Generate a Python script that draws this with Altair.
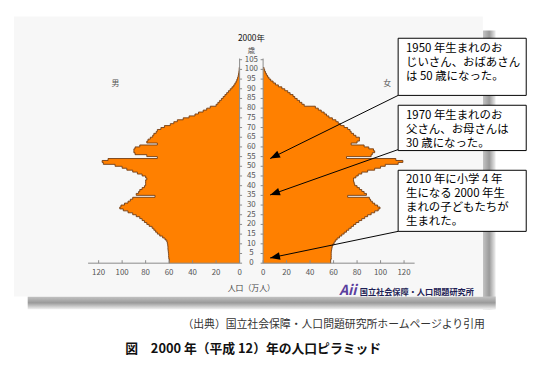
import math
import altair as alt
import pandas as pd

# ---------------- data (万人) ----------------
ages = list(range(0, 101))
male = [59.8, 59.8, 60.2, 60.4, 60.4, 60.6, 60.8, 61, 61, 61.2,
        61.5, 62, 63.5, 65.5, 68, 70, 71.5, 73, 74.5, 77,
        79, 81, 83, 85, 88, 91, 95, 99, 102, 101,
        98, 95, 93, 91, 72, 88, 86, 85, 83, 81,
        80, 80, 80, 79, 80, 83, 87, 91, 96, 100,
        106, 116, 117, 112, 70, 79, 89, 90, 90, 89,
        85, 70, 79, 78, 76, 74, 73, 71, 70, 67,
        64, 59, 56, 53, 48, 43, 38, 35, 31, 28,
        25, 20, 18.5, 17, 15.5, 14, 12.5, 11, 9.5, 8,
        6.5, 5, 4, 3, 2.3, 1.7, 1.2, 0.9, 0.6, 0.4, 0.3]
female = [57.5, 57.5, 58, 58, 58, 58, 58.2, 58.5, 58.8, 59.5,
          60.5, 61.5, 63, 65, 67, 69, 71, 73, 75, 77,
          79, 81.5, 84, 86.5, 89, 92, 95, 98, 99.5, 97.5,
          95, 93, 91.5, 90.5, 72, 88, 86, 84, 82, 80,
          78, 77.5, 77, 77, 79, 81, 84, 89, 95, 100,
          104, 115, 119, 113, 71, 92, 93, 95, 94, 90,
          86, 75, 80, 82, 82, 79, 77, 75, 74, 72,
          69, 66, 64, 62, 59, 56, 54, 52, 49.5, 47,
          44.5, 35, 33, 31, 29, 27, 25.5, 23, 21, 18.5,
          16, 13, 10.5, 8.5, 6.5, 5, 3.8, 2.8, 2, 1.3, 0.8]
age_ticks = list(range(0, 106, 5))
pop_ticks = [0, 20, 40, 60, 80, 100, 120]
box_texts = ["1950 年生まれのお\nじいさん、おばあさん\nは 50 歳になった。",
             "1970 年生まれのお\n父さん、お母さんは\n30 歳になった。",
             "2010 年に小学 4 年\n生になる 2000 年生\nまれの子どもたちが\n生まれた。"]
arrow_ages = [54, 35.2, 2.7]
arrow_pop = [6, 6, 6]

FONT = "Noto Sans CJK JP"

# ---------------- geometry ----------------
W, H = 541, 362
K = 1.1923      # px per 万人
M = 1.967       # px per year of age
CXP = 255.0     # page x of centre
Y0P = 264.3     # page y of age 0
GAP = 10        # half gap (in 万人 units)
AXIS_EXT = 129
EPS = 0.002


def ux(p):
    return (p - CXP) / K


def ay(p):
    return (Y0P - p) / M


xs = alt.Scale(domain=[ux(8), ux(8 + W)], nice=False, zero=False)
ys = alt.Scale(domain=[ay(8 + H), ay(8)], nice=False, zero=False)


def X(f):
    return alt.X(f, type="quantitative", scale=xs, axis=None, stack=None)


def Y(f):
    return alt.Y(f, type="quantitative", scale=ys, axis=None, stack=None)


def profile_df(vals, sign):
    # step profile built from the single-year values (two points per age band)
    rows = []
    i = 0
    for a, v in zip(ages, vals):
        for yy in (a + EPS, a + 1 - EPS):
            rows.append({"i": i, "age": yy, "edge": sign * (GAP + v), "base": sign * GAP})
            i += 1
    rows.append({"i": i, "age": ages[-1] + 1, "edge": sign * GAP, "base": sign * GAP})
    return pd.DataFrame(rows)


layers = []

# ---------------- panel and shadow ----------------
shadow_r = pd.DataFrame([{"x": ux(490), "x2": ux(503), "y": ay(28), "y2": ay(311)}])
shadow_b = pd.DataFrame([{"x": ux(28), "x2": ux(503), "y": ay(298), "y2": ay(311)}])
panel = pd.DataFrame([{"x": ux(14), "x2": ux(490), "y": ay(14), "y2": ay(298)}])
stops = [alt.GradientStop(color="#c4c4c4", offset=0),
         alt.GradientStop(color="#9a9a9a", offset=0.5),
         alt.GradientStop(color="#f0f0f0", offset=1)]
layers.append(alt.Chart(shadow_r).mark_rect(fill=alt.Gradient(
    gradient="linear", x1=0, x2=1, y1=0, y2=0, stops=stops)).encode(
    x=X("x"), x2="x2", y=Y("y"), y2="y2"))
layers.append(alt.Chart(shadow_b).mark_rect(fill=alt.Gradient(
    gradient="linear", x1=0, x2=0, y1=0, y2=1, stops=stops)).encode(
    x=X("x"), x2="x2", y=Y("y"), y2="y2"))
layers.append(alt.Chart(panel).mark_rect(fill="#f7f7f7").encode(
    x=X("x"), x2="x2", y=Y("y"), y2="y2"))

# ---------------- pyramid ----------------
for vals, sign in [(male, -1), (female, 1)]:
    d = profile_df(vals, sign)
    layers.append(alt.Chart(d).mark_area(orient="horizontal", interpolate="linear",
                                         color="#ff8000", opacity=1).encode(
        x=X("edge"), x2="base", y=Y("age")))
    layers.append(alt.Chart(d).mark_line(interpolate="linear", color="#6e3a12",
                                         strokeWidth=0.9).encode(
        x=X("edge"), y=Y("age"), order=alt.Order("i:Q")))

# ---------------- axes ----------------
axcol = "#8a8a8a"
hl = pd.DataFrame([{"x": -GAP - AXIS_EXT, "x2": -GAP, "y": 0},
                   {"x": GAP, "x2": GAP + AXIS_EXT, "y": 0}])
layers.append(alt.Chart(hl).mark_rule(color=axcol, strokeWidth=1).encode(
    x=X("x"), x2="x2", y=Y("y")))
vl = pd.DataFrame([{"x": -GAP, "y": 0, "y2": 105.6}, {"x": GAP, "y": 0, "y2": 105.6}])
layers.append(alt.Chart(vl).mark_rule(color=axcol, strokeWidth=1).encode(
    x=X("x"), y=Y("y"), y2="y2"))
pt = pd.DataFrame([{"x": s * (GAP + t), "y": 0, "y2": 3 / M} for s in (-1, 1) for t in pop_ticks])
layers.append(alt.Chart(pt).mark_rule(color=axcol, strokeWidth=1).encode(
    x=X("x"), y=Y("y"), y2="y2"))
at = pd.DataFrame([{"x": -GAP, "x2": -GAP + 2.5 / K, "y": a} for a in age_ticks] +
                  [{"x": GAP - 2.5 / K, "x2": GAP, "y": a} for a in age_ticks])
layers.append(alt.Chart(at).mark_rule(color=axcol, strokeWidth=1).encode(
    x=X("x"), x2="x2", y=Y("y")))

al = pd.DataFrame([{"x": 0, "y": a, "t": str(a)} for a in age_ticks])
layers.append(alt.Chart(al).mark_text(font=FONT, fontSize=8, color="#555555",
                                      baseline="middle", align="center").encode(
    x=X("x"), y=Y("y"), text="t:N"))
pl = pd.DataFrame([{"x": s * (GAP + t), "y": ay(274.5), "t": str(t)} for s in (-1, 1) for t in pop_ticks])
layers.append(alt.Chart(pl).mark_text(font=FONT, fontSize=8, color="#555555",
                                      baseline="middle", align="center").encode(
    x=X("x"), y=Y("y"), text="t:N"))


# ---------------- labels ----------------
def text_layer(rows, **kw):
    d = pd.DataFrame(rows)
    return alt.Chart(d).mark_text(font=FONT, baseline="middle", **kw).encode(
        x=X("x"), y=Y("y"), text="t:N")


layers.append(text_layer([{"x": 0, "y": ay(36), "t": "2000年"}], fontSize=8.5, color="#111111", align="center"))
layers.append(text_layer([{"x": 0, "y": ay(48.5), "t": "歳"}], fontSize=7.5, color="#555555", align="center"))
layers.append(text_layer([{"x": ux(117), "y": ay(82), "t": "男"},
                          {"x": ux(393), "y": ay(82), "t": "女"}], fontSize=8, color="#555555", align="center"))
layers.append(text_layer([{"x": 0, "y": ay(291), "t": "人口（万人）"}], fontSize=8, color="#444444", align="center"))

# logo
layers.append(text_layer([{"x": ux(353), "y": ay(293), "t": "Aii"}], fontSize=14, color="#5b3f9e",
                         align="center", fontStyle="italic", fontWeight="bold"))
layers.append(text_layer([{"x": ux(365), "y": ay(294.5), "t": "国立社会保障・人口問題研究所"}], fontSize=8.3,
                         color="#1e1e55", align="left", fontWeight="bold"))

# footer
layers.append(text_layer([{"x": ux(492), "y": ay(327), "t": "（出典）国立社会保障・人口問題研究所ホームページより引用"}],
                         fontSize=11, color="#333333", align="right"))
layers.append(text_layer([{"x": ux(127), "y": ay(351), "t": "図　2000 年（平成 12）年の人口ピラミッド"}],
                         fontSize=13, color="#111111", align="left", fontWeight="bold"))

# ---------------- callout boxes + arrows ----------------
box_px = [(404, 36, 534, 94), (404, 104, 534, 150), (404, 170, 534, 232)]
first_line_y = [47, 115, 180]
start_px = [(404, 94), (404, 149), (404, 232)]

ar_rows, head_rows = [], []
for (sx, sy), a, p in zip(start_px, arrow_ages, arrow_pop):
    tu = GAP + p
    tx, ty = CXP + K * tu, Y0P - M * a
    ang = math.degrees(math.atan2(tx - sx, -(ty - sy))) % 360
    ar_rows.append({"x": ux(sx), "y": ay(sy), "x2": tu, "y2": a})
    head_rows.append({"x": tu, "y": a, "ang": ang})

layers.append(alt.Chart(pd.DataFrame(ar_rows)).mark_rule(color="#000000", strokeWidth=1).encode(
    x=X("x"), y=Y("y"), x2="x2", y2="y2"))
layers.append(alt.Chart(pd.DataFrame(head_rows)).mark_point(
    shape="M0,0L0.7,1.8L-0.7,1.8Z", filled=True, size=123, color="#000000", opacity=1).encode(
    x=X("x"), y=Y("y"), angle=alt.Angle("ang:Q", scale=None)))

bx = pd.DataFrame([{"x": ux(b[0]), "x2": ux(b[2]), "y": ay(b[1]), "y2": ay(b[3])} for b in box_px])
layers.append(alt.Chart(bx).mark_rect(fill="#ffffff", stroke="#000000", strokeWidth=1).encode(
    x=X("x"), x2="x2", y=Y("y"), y2="y2"))
bt = pd.DataFrame([{"x": ux(412), "y": ay(cy), "t": t} for cy, t in zip(first_line_y, box_texts)])
layers.append(alt.Chart(bt).mark_text(font=FONT, fontSize=11.6, color="#000000", align="left",
                                      baseline="middle", lineBreak="\n", lineHeight=14.2).encode(
    x=X("x"), y=Y("y"), text="t:N"))

chart = alt.layer(*layers).properties(
    width=W, height=H, padding=0, background="#ffffff",
    autosize=alt.AutoSizeParams(type="none")
).configure_view(stroke=None)

chart.save("out.html", embed_options={"renderer": "svg", "actions": False})
